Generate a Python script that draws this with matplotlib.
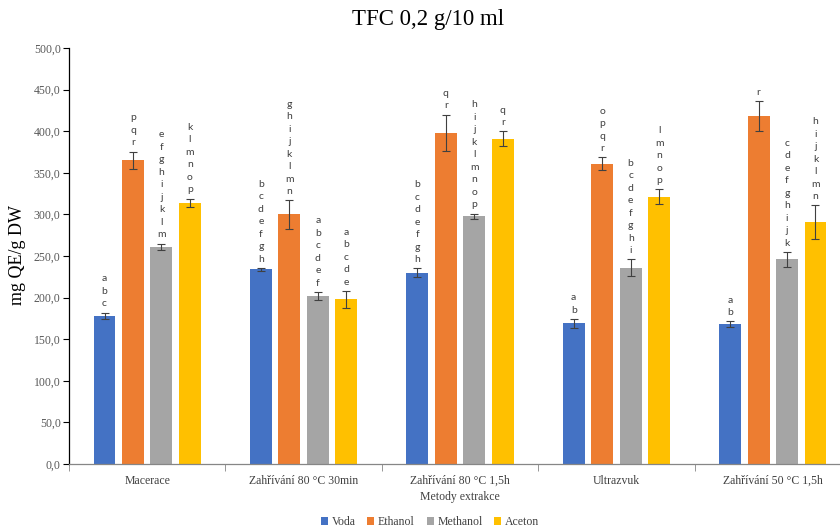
import matplotlib
matplotlib.use("Agg")
import matplotlib.pyplot as plt
import numpy as np

# data
methods = ["Macerace", "Zahřívání 80 °C 30min", "Zahřívání 80 °C 1,5h",
           "Ultrazvuk", "Zahřívání 50 °C 1,5h"]
solvents = ["Voda", "Ethanol", "Methanol", "Aceton"]

voda = [178, 234, 230, 169, 168]
ethanol = [365, 300, 398, 361, 418]
methanol = [261, 202, 298, 236, 246]
aceton = [314, 198, 391, 321, 291]

voda_err = [4, 1.5, 5, 5.5, 3.5]
ethanol_err = [10.5, 17, 22, 7.5, 18]
methanol_err = [4, 5, 3, 10, 9]
aceton_err = [5, 10, 9, 9, 20]

voda_letters = ["abc", "bcdefgh", "bcdefgh", "ab", "ab"]
ethanol_letters = ["pqr", "ghijklmn", "qr", "opqr", "r"]
methanol_letters = ["efghijklm", "abcdef", "hijklmnop", "bcdefghi", "cdefghijk"]
aceton_letters = ["klmnop", "abcde", "qr", "lmnop", "hijklmn"]

colors = ["#4472C4", "#ED7D31", "#A5A5A5", "#FFC000"]

values = [voda, ethanol, methanol, aceton]
errors = [voda_err, ethanol_err, methanol_err, aceton_err]
letters = [voda_letters, ethanol_letters, methanol_letters, aceton_letters]

W, H = 840, 530
fig = plt.figure(figsize=(W / 100, H / 100), dpi=100)
ax = fig.add_axes([69 / W, 66 / H, 782 / W, 416 / H])

x = np.arange(len(methods))
step = 0.182
width = 0.14
serif = "Liberation Serif"

for i, name in enumerate(solvents):
    pos = x + (i - 1.5) * step
    ax.bar(pos, values[i], width, color=colors[i], label=name, zorder=2)
    ax.errorbar(pos, values[i], yerr=errors[i], fmt="none", ecolor="#404040",
                elinewidth=0.8, capsize=3, capthick=0.8, zorder=3)
    for p, v, e, lab in zip(pos, values[i], errors[i], letters[i]):
        ax.annotate("\n".join(lab), (p, v + e), xytext=(0, 3),
                    textcoords="offset points", ha="center", va="bottom",
                    fontsize=7.5, family="Lato", color="#404040",
                    linespacing=1.5)

ax.set_xlim(-0.5, len(methods) - 0.5)
ax.set_ylim(0, 500)
ax.set_yticks(np.arange(0, 501, 50))
ax.set_yticklabels([f"{v:.1f}".replace(".", ",") for v in np.arange(0, 501, 50)],
                   family=serif, fontsize=8.5, color="#595959")
ax.set_xticks(x)
ax.set_xticklabels(methods, family=serif, fontsize=8.5, color="#404040")
ax.set_xticks(np.arange(-0.5, len(methods)), minor=True)
ax.tick_params(axis="x", which="major", length=0, pad=8)
ax.tick_params(axis="x", which="minor", length=5, color="#868686")
ax.tick_params(axis="y", length=4, width=0.8, pad=2)

for s in ["top", "right"]:
    ax.spines[s].set_visible(False)
ax.spines["left"].set_color("black")
ax.spines["left"].set_linewidth(0.9)
ax.spines["bottom"].set_color("#868686")
ax.spines["bottom"].set_linewidth(0.9)

ax.set_xlabel("Metody extrakce", family=serif, fontsize=8.5, color="#404040",
              labelpad=3)
fig.text(18 / W, 1 - 255 / H, "mg QE/g DW", family=serif, fontsize=13,
         rotation=90, ha="center", va="center")
fig.text(428 / W, 1 - 20 / H, "TFC 0,2 g/10 ml", family=serif, fontsize=16.5,
         ha="center", va="center")

fig.legend(loc="center", bbox_to_anchor=(430 / W, 1 - 522 / H), ncol=4,
           frameon=False, prop={"family": serif, "size": 8.5},
           handlelength=0.6, handleheight=0.6, columnspacing=1.0,
           handletextpad=0.3, labelcolor="#404040")

fig.savefig("out.png", dpi=100)
